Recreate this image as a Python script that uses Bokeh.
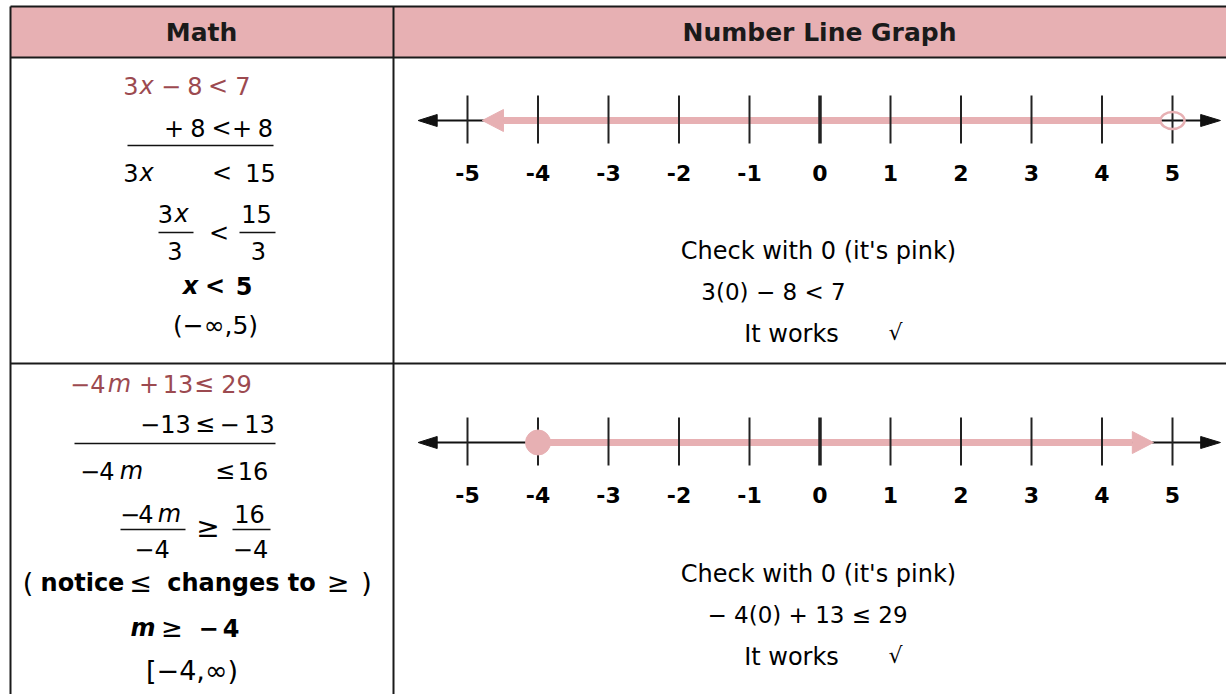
from bokeh.plotting import figure
from bokeh.models import Range1d, ColumnDataSource
from bokeh.core.properties import value
from bokeh.embed import file_html
from bokeh.resources import INLINE

# ---------------- data ----------------
ticks = [-5, -4, -3, -2, -1, 0, 1, 2, 3, 4, 5]
tick_labels = ["-5", "-4", "-3", "-2", "-1", "0", "1", "2", "3", "4", "5"]
headers = ["Math", "Number Line Graph"]
bounds = [5, -4]             # boundary of each solved inequality
closed = [False, True]       # x < 5 (open), m >= -4 (closed)
directions = ["left", "right"]
check_lines_1 = ["Check with 0 (it's pink)", "3(0) \u2212 8 < 7", "It works", "\u221a"]
check_lines_2 = ["Check with 0 (it's pink)", "\u2212 4(0) + 13 \u2264 29", "It works", "\u221a"]

# ---------------- styles ----------------
PINK = "#e7b0b3"
RED = "#9c4a50"
INK = "#111111"
MATH = "DejaVu Sans"
MS = 24              # math font size
W, H = 1226, 694
OX, OY = 0, 0
STEP = 70.5          # px per unit on number lines
X_M5 = 467           # px position of -5

p = figure(width=W, height=H, x_range=Range1d(OX, OX + W), y_range=Range1d(OY + H, OY),
           x_axis_type=None, y_axis_type=None, output_backend="svg",
           toolbar_location=None, min_border=0)
p.grid.visible = False
p.outline_line_color = None
p.background_fill_color = "white"
p.border_fill_color = "white"

num_start = ticks[0] - (X_M5 - OX) / STEP
num_end = ticks[0] + (OX + W - X_M5) / STEP
p.extra_x_ranges = {"num": Range1d(num_start, num_end)}


def t(x, y, s, size=MS, color="black", font=MATH, style="normal", align="center", rng="default"):
    p.text(x=[x], y=[y], text=[s], text_font=value(font), text_font_size=f"{size}px",
           text_font_style=style, text_color=color, text_align=align, text_baseline="middle",
           x_range_name=rng)


# ---------------- table ----------------
p.quad(left=[10], right=[1226], top=[6], bottom=[57], fill_color=PINK, line_color=None)
p.segment(x0=[10, 10, 10, 393, 10], x1=[1226, 1226, 1226, 393, 10],
          y0=[6, 57, 363, 6, 6], y1=[6, 57, 363, 700, 700], line_color="#1a1a1a", line_width=2)
t(201, 32, headers[0], size=25, font="DejaVu Sans", style="bold", color="#1a1a1a")
t(819, 32, headers[1], size=25, font="DejaVu Sans", style="bold", color="#1a1a1a")


# ---------------- number lines ----------------
def number_line(yb, bound, is_closed, direction):
    lo, hi = ticks[0], ticks[-1]
    # black axis with arrows
    p.segment(x0=[lo - 0.5], x1=[hi + 0.5], y0=[yb], y1=[yb], line_color=INK, line_width=2,
              x_range_name="num")
    p.patches(xs=[[lo - 0.70, lo - 0.43, lo - 0.43], [hi + 0.68, hi + 0.40, hi + 0.40]],
              ys=[[yb, yb - 6, yb + 6], [yb, yb - 6, yb + 6]], fill_color=INK, line_color=INK,
              x_range_name="num")
    # pink ray
    r = 12 / STEP if not is_closed else 0
    if direction == "left":
        tip, base, start = lo + 0.21, lo + 0.51, bound - r
    else:
        tip, base, start = hi - 0.27, hi - 0.57, bound + r
    p.segment(x0=[start], x1=[base], y0=[yb], y1=[yb], line_color=PINK, line_width=7,
              x_range_name="num")
    p.patch(x=[tip, base, base], y=[yb, yb - 11, yb + 11], fill_color=PINK, line_color=PINK,
            x_range_name="num")
    # ticks
    src = ColumnDataSource(dict(x=ticks, y0=[yb - 25] * len(ticks), y1=[yb + 23] * len(ticks),
                                w=[3.5 if v == 0 else 2 for v in ticks]))
    p.segment(x0="x", x1="x", y0="y0", y1="y1", line_width="w", line_color="#222222",
              source=src, x_range_name="num")
    # endpoint
    if is_closed:
        p.scatter(x=[bound], y=[yb], size=25, marker="circle", fill_color=PINK, line_color=PINK,
                  x_range_name="num")
    else:
        p.ellipse(x=[bound], y=[yb], width=24, height=17, width_units="screen",
                  height_units="screen", fill_color=None, line_color=PINK, line_width=2.5,
                  x_range_name="num")
    # labels
    lsrc = ColumnDataSource(dict(x=ticks, y=[yb + 52] * len(ticks), text=tick_labels))
    p.text(x="x", y="y", text="text", source=lsrc, text_font=value("DejaVu Sans"),
           text_font_style="bold", text_font_size="22px", text_align="center",
           text_baseline="middle", text_color="black", x_range_name="num")


number_line(120, bounds[0], closed[0], directions[0])
number_line(442, bounds[1], closed[1], directions[1])

# ---------------- check text ----------------
for (y0, lines, xc) in [(250, check_lines_1, 773), (573, check_lines_2, 807)]:
    t(818, y0, lines[0], size=24)
    t(xc, y0 + 41, lines[1], size=23)
    t(791, y0 + 83, lines[2], size=24)
    t(895, y0 + 82, lines[3], size=22)

# ---------------- math column: problem 1 ----------------
for s, x, st in [("3", 130.5, "normal"), ("x", 146, "italic"), ("\u2212", 170.5, "normal"),
                 ("8", 194.5, "normal"), ("<", 217.5, "normal"), ("7", 242.5, "normal")]:
    t(x, 85, s, color=RED, style=st)
for s, x in [("+", 173.5), ("8", 197.5), ("<", 221), ("+", 241.5), ("8", 265)]:
    t(x, 127, s)
p.segment(x0=[127, 158, 239, 74, 120, 232], x1=[273, 193, 275, 275, 185, 270],
          y0=[145, 232, 232, 443, 529, 529], y1=[145, 232, 232, 443, 529, 529],
          line_color=INK, line_width=1.5)
for s, x, st in [("3", 130.5, "normal"), ("x", 146, "italic"), ("<", 221.5, "normal"),
                 ("15", 260, "normal")]:
    t(x, 172, s, style=st)
t(165, 213, "3"); t(181, 213, "x", style="italic"); t(174.5, 250, "3")
t(218.5, 232, "<"); t(256, 213, "15"); t(258, 250, "3")
t(190, 285, "x", style="bold italic"); t(214.5, 285, "<", style="bold"); t(243.5, 285, "5", style="bold")
t(215, 325, "(\u2212\u221e,5)", size=25)

# ---------------- math column: problem 2 ----------------
for s, x, st in [("\u2212", 79.5, "normal"), ("4", 97.5, "normal"), ("m", 119, "italic"),
                 ("+", 148.5, "normal"), ("13", 177.5, "normal"), ("\u2264", 203.5, "normal"),
                 ("29", 236, "normal")]:
    t(x, 383, s, color=RED, style=st)
for s, x in [("\u2212", 149.5), ("13", 175), ("\u2264", 204.5), ("\u2212", 229), ("13", 259)]:
    t(x, 423, s)
for s, x, st in [("\u2212", 89.5, "normal"), ("4", 106.5, "normal"), ("m", 131, "italic"),
                 ("\u2264", 224.5, "normal"), ("16", 252.5, "normal")]:
    t(x, 470, s, style=st)
t(129.5, 513, "\u2212"); t(145.5, 513, "4"); t(169, 513, "m", style="italic")
t(151.5, 548, "\u22124"); t(207.5, 527, "\u2265", size=28)
t(249, 513, "16"); t(250, 548, "\u22124")
t(27.5, 582, "(", size=27); t(82, 582, "notice", style="bold")
t(140, 582, "\u2264", size=27); t(241, 582, "changes to", style="bold")
t(337.5, 582, "\u2265", size=27); t(366, 582, ")", size=27)
t(142.5, 627, "m", style="bold italic"); t(171.5, 627, "\u2265", size=26); t(208, 627, "\u2212", style="bold")
t(230.5, 627, "4", style="bold")
t(191.5, 670, "[\u22124,\u221e)", size=27)

open("out.html", "w").write(file_html(p, INLINE))
